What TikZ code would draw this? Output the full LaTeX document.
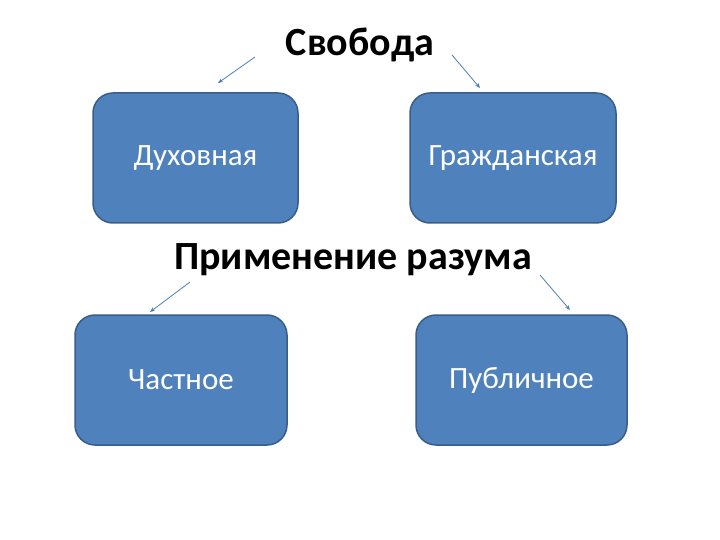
\documentclass[tikz,border=0pt]{standalone}
\usepackage{fontspec}
\setmainfont{Carlito}
\usetikzlibrary{arrows.meta}
\definecolor{boxblue}{HTML}{4F81BD}
\definecolor{boxedge}{HTML}{385D8A}
\definecolor{arrowblue}{HTML}{4A7EBB}
\tikzset{
  box/.style={draw=boxedge, line width=1.5pt, fill=boxblue, rounded corners=20pt,
    text=white, font=\fontsize{31}{36}\selectfont},
  heading/.style={font=\fontsize{40}{46}\selectfont\bfseries},
  pointer/.style={color=arrowblue, line width=0.8pt, -{Stealth[length=5pt,width=4pt]}}
}
\begin{document}
\begin{tikzpicture}[x=1pt,y=-1pt]
					\useasboundingbox (0,0) rectangle (720,540);
					\node[heading] (S) at (360,45) {Свобода};
					\node[box, minimum width=205pt, minimum height=130pt] (D) at (195.5,158) {Духовная};
					\node[box, minimum width=206pt, minimum height=130pt] (G) at (513,158) {Гражданская};
					\node[heading] (R) at (353,260) {Применение разума};
					\node[box, minimum width=212pt, minimum height=130pt] (C) at (181,380) {Частное};
					\node[box, minimum width=211pt, minimum height=130pt] (P) at (521.5,380) {Публичное};

					\coordinate (s1) at (255,57);
					\coordinate (d1) at (218,83);
					\coordinate (s2) at (452,55);
					\coordinate (g1) at (480,88);
					\coordinate (r1) at (190,282);
					\coordinate (c1) at (150,312);
					\coordinate (r2) at (540,275);
					\coordinate (p1) at (570,310);

					\path [pointer] (s1) edge (d1);
					\path [pointer] (s2) edge (g1);
					\path [pointer] (r1) edge (c1);
					\path [pointer] (r2) edge (p1);
				\end{tikzpicture}
\end{document}
